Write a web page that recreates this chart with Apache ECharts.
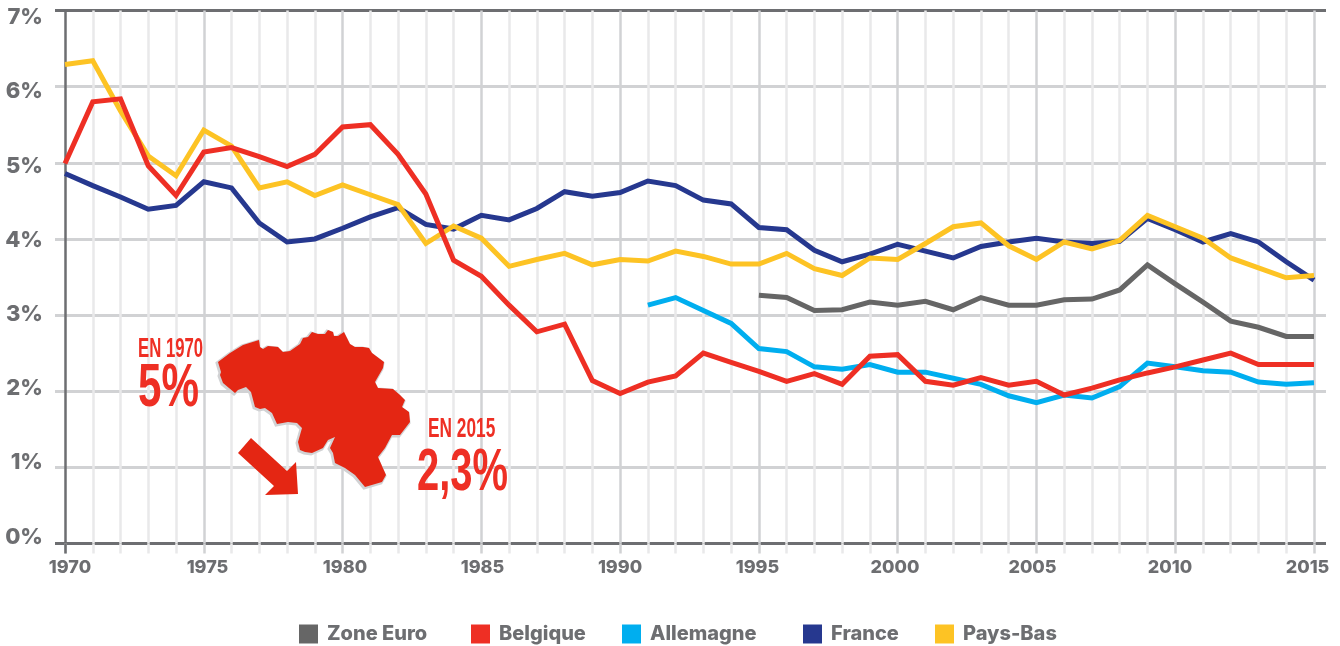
<!DOCTYPE html>
<html>
<head>
<meta charset="utf-8">
<style>
html, body { margin: 0; padding: 0; background: #fff; }
#main { width: 1340px; height: 646px; }
</style>
<script src="https://cdn.jsdelivr.net/npm/echarts@6/dist/echarts.min.js"></script>
</head>
<body>
<div id="main"></div>
<script>
var belgique = [4.99, 5.8, 5.84, 4.96, 4.57, 5.14, 5.2, 5.08, 4.95, 5.11, 5.47, 5.5, 5.11, 4.59, 3.72, 3.51, 3.13, 2.78, 2.88, 2.14, 1.97, 2.12, 2.2, 2.5, 2.38, 2.26, 2.13, 2.23, 2.09, 2.46, 2.48, 2.13, 2.08, 2.18, 2.08, 2.13, 1.95, 2.04, 2.15, 2.24, 2.32, 2.41, 2.5, 2.35, 2.35, 2.35];
var france = [4.86, 4.7, 4.55, 4.39, 4.44, 4.75, 4.67, 4.21, 3.96, 4.0, 4.14, 4.29, 4.41, 4.19, 4.13, 4.31, 4.25, 4.4, 4.62, 4.56, 4.61, 4.76, 4.7, 4.51, 4.46, 4.15, 4.12, 3.85, 3.7, 3.8, 3.93, 3.84, 3.75, 3.9, 3.96, 4.01, 3.96, 3.94, 3.97, 4.27, 4.12, 3.96, 4.07, 3.96, 3.7, 3.46];
var paysBas = [6.29, 6.34, 5.68, 5.09, 4.83, 5.43, 5.22, 4.67, 4.75, 4.57, 4.71, 4.58, 4.45, 3.94, 4.17, 4.01, 3.64, 3.73, 3.81, 3.66, 3.73, 3.71, 3.84, 3.77, 3.67, 3.67, 3.81, 3.61, 3.52, 3.75, 3.73, 3.94, 4.16, 4.21, 3.91, 3.73, 3.96, 3.87, 3.98, 4.31, 4.16, 4.01, 3.75, 3.62, 3.49, 3.52];
// starts in 1995
var zoneEuro = [3.26, 3.23, 3.06, 3.07, 3.17, 3.13, 3.18, 3.07, 3.23, 3.13, 3.13, 3.2, 3.21, 3.33, 3.66, 3.41, 3.17, 2.92, 2.84, 2.72, 2.72];
// starts in 1991
var allemagne = [3.13, 3.23, 3.06, 2.89, 2.56, 2.52, 2.32, 2.29, 2.35, 2.25, 2.25, 2.17, 2.09, 1.94, 1.85, 1.95, 1.91, 2.06, 2.37, 2.32, 2.27, 2.25, 2.12, 2.09, 2.11];
var legendNames = ['Zone Euro', 'Belgique', 'Allemagne', 'France', 'Pays-Bas'];

// the country and the arrow are illustration, not data: page pixels
var mapOutline = [[218,362],[230,353],[243,345],[259,340],[260,347],[263,349],[268,346],[278,347],[283,352],[290,351],[300,344],[303,338],[308,337],[312,332],[318,334],[325,334],[328,330],[333,332],[334,336],[338,336],[344,332],[347,338],[350,344],[355,347],[363,347],[369,348],[372,353],[384,362],[383,368],[375,382],[378,388],[393,389],[400,395],[405,400],[402,407],[409,412],[410,422],[400,435],[392,435],[385,448],[378,457],[386,475],[382,482],[365,487],[355,475],[345,468],[335,463],[333,453],[330,448],[335,437],[328,440],[323,448],[312,453],[305,452],[300,450],[298,442],[302,428],[297,423],[288,422],[277,424],[272,413],[265,408],[260,409],[255,407],[251,392],[246,387],[238,390],[235,393],[223,383],[220,375],[221,372]];
var arrowOutline = [[251,438],[287,471],[296,462],[298,494],[265,495],[274,486],[238,453]];

var GREY = '#6d6e71';
var RED = '#ee2f24';
var FONT = 'Inter';
var NOTE_FONT = '"Liberation Sans"';

function pairs(start, values) {
    return values.map(function (v, i) { return [start + i, v]; });
}

function makeLine(name, color, start, values) {
    return {
        name: name,
        type: 'line',
        xAxisIndex: 2,
        yAxisIndex: 2,
        data: pairs(start, values),
        showSymbol: false,
        symbol: 'none',
        itemStyle: { color: color },
        lineStyle: { color: color, width: 5, join: 'miter', cap: 'butt', miterLimit: 10 },
        silent: true
    };
}

function noteText(text, x, y, size, scaleX) {
    return {
        type: 'text',
        x: x,
        y: y,
        scaleX: scaleX,
        z: 11,
        style: { text: text, fill: RED, font: 'bold ' + size + 'px ' + NOTE_FONT }
    };
}

// one legend per name, the gaps in the source are not even
var legendLefts = [299, 471, 622, 803, 935];
var legends = legendNames.map(function (name, i) {
    return {
        data: [name],
        left: legendLefts[i],
        top: 624,
        padding: 0,
        icon: 'rect',
        itemWidth: 19,
        itemHeight: 19,
        selectedMode: false,
        textStyle: { color: GREY, fontFamily: FONT, fontWeight: 800, fontSize: 20, padding: [2, 0, 0, 4] }
    };
});

var myChart = echarts.init(document.getElementById('main'));
var option = {
    backgroundColor: '#fff',
    animation: false,
    grid: [
        // horizontal lines, they run past the plot on both sides
        { left: 55, right: 14, top: 10.5, bottom: 102.5 },
        // tick labels sit on their own slightly tighter frame
        { left: 70, right: 32.5, top: 17.5, bottom: 109 },
        // the plot itself
        { left: 65, right: 26, top: 10.5, bottom: 102.5 }
    ],
    xAxis: [
        { gridIndex: 0, type: 'value', min: 0, max: 1, show: false },
        {
            gridIndex: 1, type: 'value', min: 1970, max: 2015, interval: 5,
            axisLine: { show: false }, axisTick: { show: false }, splitLine: { show: false },
            axisLabel: {
                margin: 22, color: GREY, fontFamily: FONT, fontWeight: 800, fontSize: 18,
                showMinLabel: true, showMaxLabel: true, alignMinLabel: 'center', alignMaxLabel: 'center',
                formatter: function (v) { return String(v); }
            }
        },
        {
            gridIndex: 2, type: 'value', min: 1970, max: 2015, interval: 5,
            axisLine: { show: false },
            axisLabel: { show: false },
            axisTick: { length: 10, lineStyle: { color: '#d1d2d4', width: 2.5 } },
            minorTick: { show: true, splitNumber: 5, length: 10, lineStyle: { color: '#e9e9ea', width: 2.5 } },
            splitLine: { show: true, lineStyle: { color: [GREY, '#d1d2d4', '#d1d2d4', '#d1d2d4', '#d1d2d4', '#d1d2d4', '#d1d2d4', '#d1d2d4', '#d1d2d4', '#d1d2d4'], width: 2.5 } },
            minorSplitLine: { show: true, lineStyle: { color: '#e9e9ea', width: 2.5 } }
        },
        // dark tick under the y axis
        {
            gridIndex: 2, type: 'value', min: 1970, max: 2015, position: 'bottom',
            axisLine: { show: false }, axisLabel: { show: false }, splitLine: { show: false },
            axisTick: { customValues: [1970], length: 10, lineStyle: { color: GREY, width: 2.5 } }
        }
    ],
    yAxis: [
        {
            gridIndex: 0, type: 'value', min: 0, max: 7, interval: 1,
            axisLine: { show: false }, axisTick: { show: false }, axisLabel: { show: false },
            splitLine: { show: true, lineStyle: { color: [GREY, '#d1d2d4', '#d1d2d4', '#d1d2d4', '#d1d2d4', '#d1d2d4', '#d1d2d4', GREY], width: 3 } }
        },
        {
            gridIndex: 1, type: 'value', min: 0, max: 7, interval: 1,
            axisLine: { show: false }, axisTick: { show: false }, splitLine: { show: false },
            axisLabel: { margin: 27, formatter: '{value}%', color: GREY, fontFamily: FONT, fontWeight: 800, fontSize: 22 }
        },
        {
            gridIndex: 2, type: 'value', min: 0, max: 7, interval: 1,
            axisLine: { show: false }, axisTick: { show: false }, axisLabel: { show: false }, splitLine: { show: false }
        }
    ],
    legend: legends,
    // drawn in this order so red stays on top, as in the source
    series: [
        makeLine('France', '#26388f', 1970, france),
        makeLine('Allemagne', '#00aeef', 1991, allemagne),
        makeLine('Zone Euro', '#666666', 1995, zoneEuro),
        makeLine('Pays-Bas', '#fdc324', 1970, paysBas),
        makeLine('Belgique', RED, 1970, belgique)
    ],
    graphic: [
        {
            type: 'polygon', x: -1, y: 1, z: 10,
            shape: { points: mapOutline },
            style: { fill: '#d1d2d4', stroke: '#d1d2d4', lineWidth: 3 }
        },
        {
            type: 'polygon', z: 11,
            shape: { points: mapOutline },
            style: { fill: '#e42613' }
        },
        {
            type: 'polygon', z: 11,
            shape: { points: arrowOutline },
            style: { fill: '#e42613' }
        },
        noteText('EN 1970', 138, 336, 27, 0.62),
        noteText('5%', 138, 358, 62, 0.68),
        noteText('EN 2015', 428, 416, 27, 0.64),
        noteText('2,3%', 417, 443, 60, 0.665)
    ]
};
myChart.setOption(option);
</script>
</body>
</html>
